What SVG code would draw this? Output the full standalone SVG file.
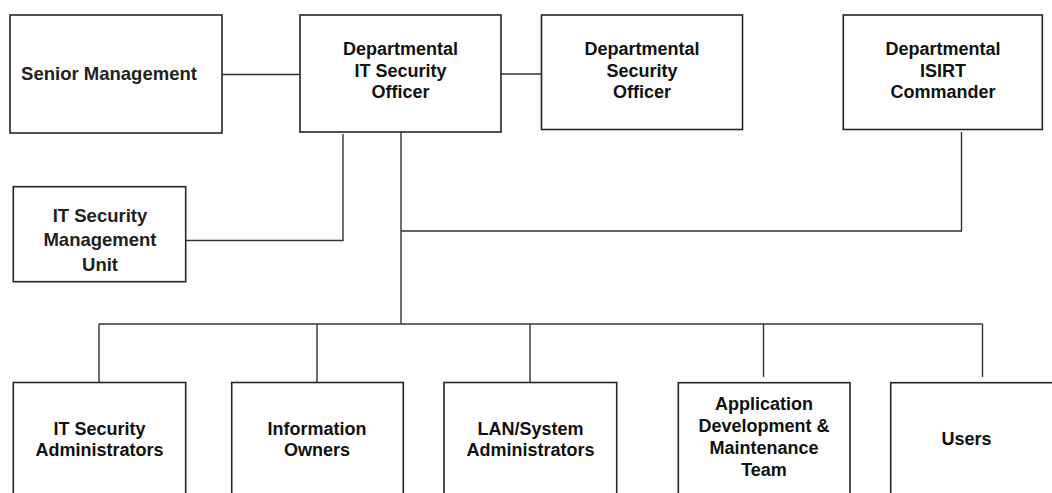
<svg xmlns="http://www.w3.org/2000/svg" width="1052" height="493" viewBox="0 0 1052 493">
<style>
.box{fill:#fff;stroke:#262626;stroke-width:1.6}
.ln{fill:none;stroke:#333;stroke-width:1.4}
.a{font-family:"Liberation Sans",Arial,sans-serif;font-weight:bold;font-size:18px;fill:#111;text-anchor:middle}
.c{font-family:"Liberation Sans",Arial,sans-serif;font-weight:bold;font-size:18.5px;fill:#222;text-anchor:middle}
</style>
<rect width="1052" height="493" fill="#fff"/>
<g id="connectors">
<path class="ln" d="M222 74.5H300"/>
<path class="ln" d="M501 74H541"/>
<path class="ln" d="M343 134V240.5H185.7"/>
<path class="ln" d="M401 132V324"/>
<path class="ln" d="M961.5 132V231H401"/>
<path class="ln" d="M99 324H982.5"/>
<path class="ln" d="M99 324V382.5M317 324V382.5M530 324V382.5M763.5 324V377M982.5 324V377"/>
</g>
<g id="senior-management">
<rect class="box" x="10" y="15" width="212" height="118"/>
<text class="c" x="109" y="80">Senior Management</text>
</g>
<g id="dept-it-security-officer">
<rect class="box" x="300" y="15" width="201" height="117"/>
<text class="a" x="400.5" y="55">Departmental</text>
<text class="a" x="400.5" y="76.5">IT Security</text>
<text class="a" x="400.5" y="98">Officer</text>
</g>
<g id="dept-security-officer">
<rect class="box" x="541.5" y="15" width="201" height="114.5"/>
<text class="a" x="642" y="55">Departmental</text>
<text class="a" x="642" y="76.5">Security</text>
<text class="a" x="642" y="98">Officer</text>
</g>
<g id="dept-isirt-commander">
<rect class="box" x="843.3" y="15" width="199" height="114.5"/>
<text class="a" x="943" y="55">Departmental</text>
<text class="a" x="943" y="76.5">ISIRT</text>
<text class="a" x="943" y="98">Commander</text>
</g>
<g id="it-security-management-unit">
<rect class="box" x="13.3" y="186.7" width="172.4" height="95"/>
<text class="c" x="100" y="221.7">IT Security</text>
<text class="c" x="100" y="246.3">Management</text>
<text class="c" x="100" y="271">Unit</text>
</g>
<g id="it-security-administrators">
<rect class="box" x="13.3" y="382.5" width="172.4" height="120"/>
<text class="a" x="99.5" y="435">IT Security</text>
<text class="a" x="99.5" y="456">Administrators</text>
</g>
<g id="information-owners">
<rect class="box" x="231.7" y="382.5" width="171.6" height="120"/>
<text class="a" x="317" y="435">Information</text>
<text class="a" x="317" y="456">Owners</text>
</g>
<g id="lan-system-administrators">
<rect class="box" x="444" y="382.5" width="172.7" height="120"/>
<text class="a" x="530.5" y="435">LAN/System</text>
<text class="a" x="530.5" y="456">Administrators</text>
</g>
<g id="app-dev-maintenance-team">
<rect class="box" x="678.3" y="382.7" width="171.7" height="120"/>
<text class="a" x="764" y="410">Application</text>
<text class="a" x="764" y="432">Development &amp;</text>
<text class="a" x="764" y="454">Maintenance</text>
<text class="a" x="764" y="476">Team</text>
</g>
<g id="users">
<rect class="box" x="890.7" y="382.7" width="180" height="120"/>
<text class="a" x="966.5" y="445">Users</text>
</g>
</svg>
